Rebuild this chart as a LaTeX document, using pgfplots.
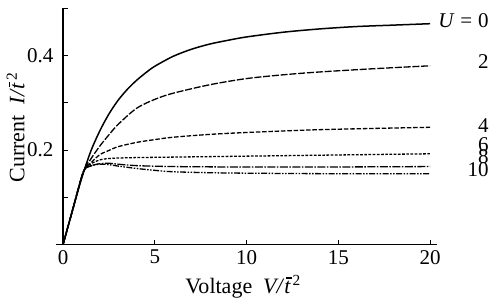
\documentclass[border=0pt]{standalone}
\usepackage{fontspec}
\setmainfont{Liberation Serif}
\usepackage{pgfplots}
\pgfplotsset{compat=1.18}
\newcommand\tbar{\textit{t}\kern-0.21em\rule[0.66em]{0.25em}{0.05em}\kern0.03em}
\begin{document}
\begin{tikzpicture}
\begin{axis}[
  scale only axis, width=381.7pt, height=236.5pt,
  xmin=-0.4, xmax=20.4, ymin=0, ymax=0.5,
  axis lines=middle,
  axis line style={-, line width=1.1pt},
  every inner x axis line/.append style={-},
  every inner y axis line/.append style={-},
  hide obscured x ticks=false,
  tick align=inside,
  major tick length=5pt,
  tick style={line width=0.9pt, black},
  xtick={0,5,10,15,20},
  xticklabels={0,5,10,15,20},
  ytick={0.1,0.2,0.3,0.4,0.5},
  yticklabels={,0.2,,0.4,},
  ticklabel style={font=\fontsize{21}{21}\selectfont},
  xticklabel style={yshift=-2pt},
  yticklabel style={xshift=-6pt},
  xlabel={Voltage\enspace\textit{V/}\tbar\textsuperscript{2}},
  ylabel={Current\enspace\textit{I/}\tbar\textsuperscript{2}},
  label style={font=\fontsize{22}{22}\selectfont, inner sep=0pt},
  xlabel style={at={(axis description cs:0.491,-0.205)}, anchor=base},
  ylabel style={at={(axis description cs:-0.082,0.495)}, anchor=base, rotate=90},
  clip=false,
  every axis plot/.append style={smooth, tension=0.5, black, line width=1.3pt},
]
% U = 0
\addplot[line width=1.5pt] coordinates {(0,0) (0.5,0.07) (1,0.138) (1.5,0.196) (2,0.240) (2.5,0.276) (3,0.305) (3.5,0.328) (4,0.347) (4.5,0.363) (5,0.377) (6,0.398) (7,0.413) (8,0.424) (9,0.432) (10,0.439) (12,0.449) (14,0.456) (16,0.461) (18,0.464) (20,0.467)};
% U = 2
\addplot[dash pattern=on 7pt off 1.8pt] coordinates {(0,0) (0.5,0.07) (1.1,0.153) (1.5,0.180) (2,0.208) (2.5,0.232) (3,0.254) (4,0.288) (5,0.307) (6,0.320) (8,0.338) (10,0.351) (12,0.359) (14,0.365) (17,0.372) (20,0.378)};
% U = 4
\addplot[dash pattern=on 4.5pt off 1.8pt] coordinates {(0,0) (0.5,0.07) (1.1,0.153) (1.5,0.172) (2,0.190) (2.5,0.199) (3,0.207) (4,0.216) (5,0.222) (6,0.227) (8,0.233) (10,0.237) (14,0.243) (20,0.248)};
% U = 6
\addplot[dash pattern=on 2.7pt off 1.5pt] coordinates {(0,0) (0.5,0.07) (1.1,0.153) (1.5,0.170) (2,0.179) (2.5,0.182) (3,0.183) (4,0.184) (6,0.185) (10,0.187) (14,0.189) (20,0.192)};
% U = 8
\addplot[dash pattern=on 8pt off 1.5pt on 1.5pt off 1.5pt] coordinates {(0,0) (0.5,0.07) (1.1,0.153) (1.5,0.166) (2,0.171) (2.5,0.172) (3,0.170) (4,0.167) (6,0.165) (10,0.164) (14,0.164) (20,0.165)};
% U = 10
\addplot[dash pattern=on 6pt off 1.5pt on 1.5pt off 1.5pt on 1.5pt off 1.5pt] coordinates {(0,0) (0.5,0.07) (1.1,0.153) (1.5,0.166) (2,0.170) (2.5,0.169) (3,0.166) (4,0.161) (5,0.157) (6,0.154) (8,0.152) (10,0.151) (14,0.150) (20,0.150)};
\begin{scope}[every node/.style={font=\fontsize{21}{21}\selectfont, inner sep=0pt, anchor=base east}]
\node at (axis cs:23.2,0.458) {\textit{U}\;=\;0};
\node at (axis cs:23.2,0.373) {2};
\node at (axis cs:23.2,0.236) {4};
\node at (axis cs:23.2,0.197) {6};
\node at (axis cs:23.2,0.1725) {8};
\node at (axis cs:23.2,0.144) {10};
\end{scope}
\coordinate (bl) at (axis cs:-3.433,-0.1192);
\coordinate (tr) at (axis cs:23.32,0.5171);
\end{axis}
\pgfresetboundingbox
\useasboundingbox (bl) rectangle (tr);
\end{tikzpicture}
\end{document}
